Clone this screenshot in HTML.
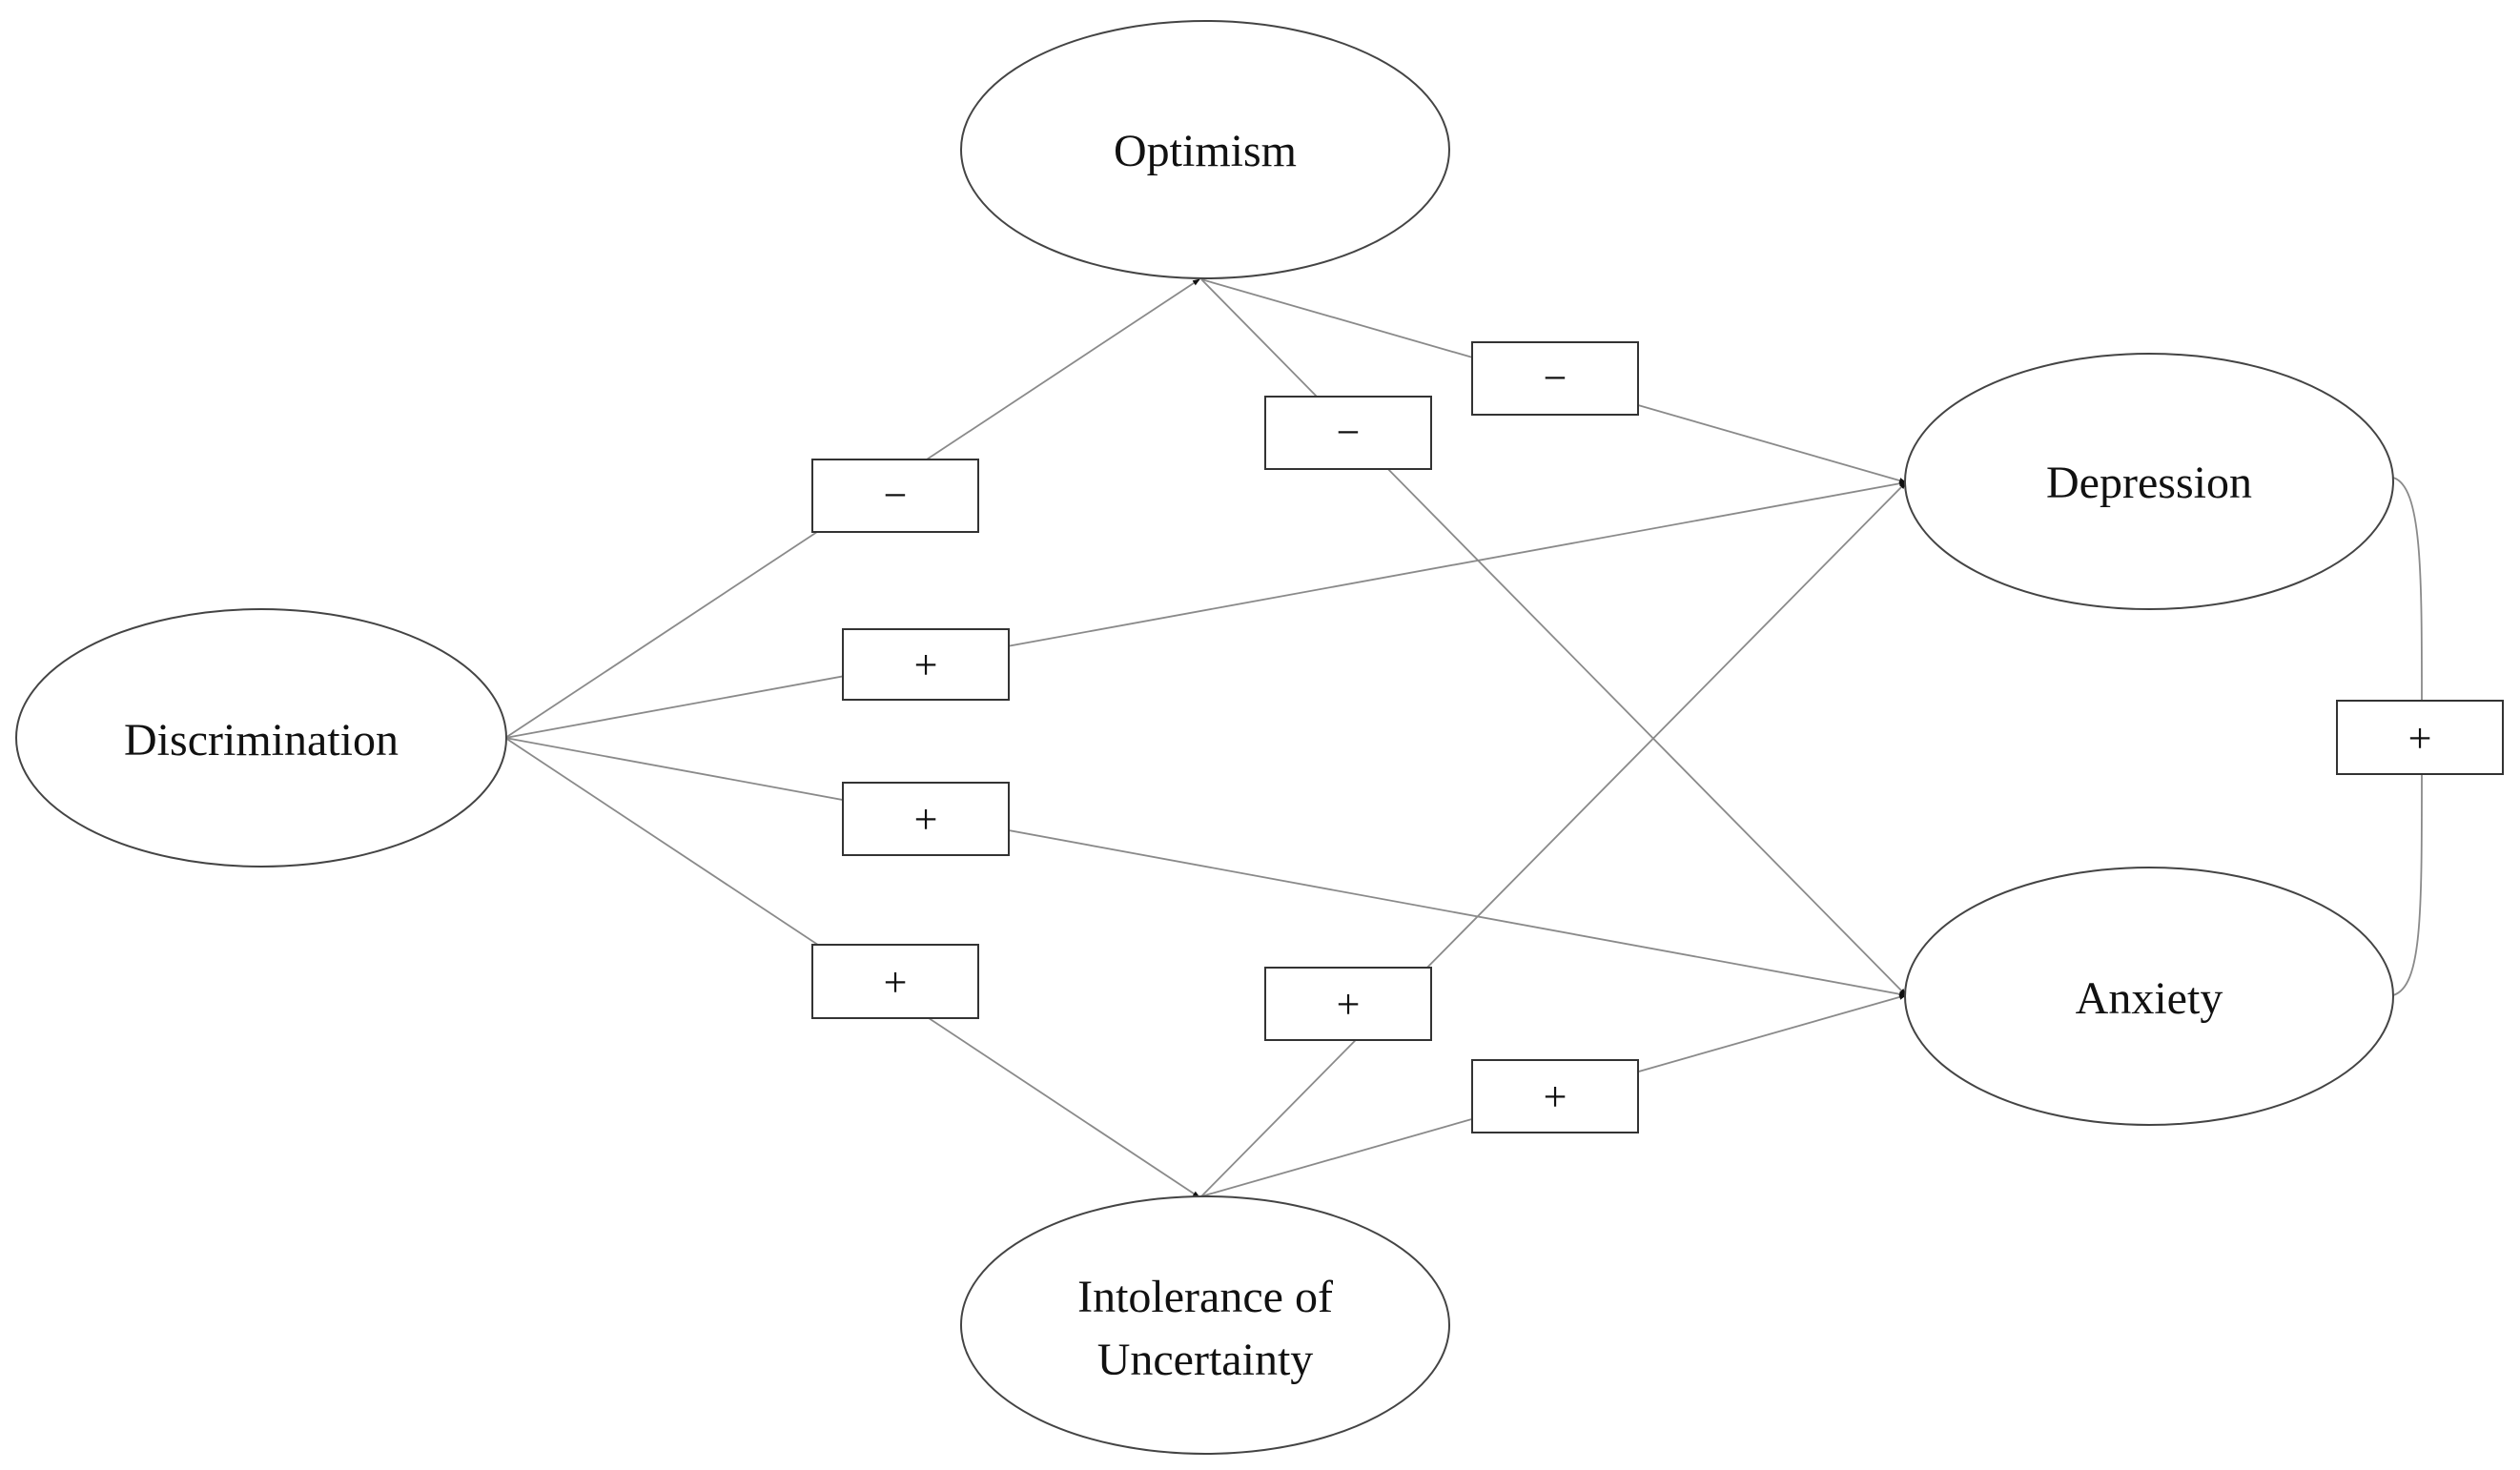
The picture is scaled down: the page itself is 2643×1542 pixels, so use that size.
<!DOCTYPE html>
<html><head><meta charset="utf-8"><style>
html,body{margin:0;padding:0;background:#fff;}
svg{display:block;}
text{font-family:"Liberation Serif",serif;fill:#111;}
</style></head><body>
<svg width="2643" height="1542" viewBox="0 0 2643 1542" xmlns="http://www.w3.org/2000/svg">
<defs>
<marker id="ah" markerWidth="8" markerHeight="8" refX="7" refY="4" orient="auto" markerUnits="userSpaceOnUse">
<path d="M0,1 L8,4 L0,7 Z" fill="#111"/>
</marker>
</defs>
<g stroke="#8a8a8a" stroke-width="1.8" fill="none">
<!-- Disc -> Optimism -->
<line x1="530" y1="774" x2="1258" y2="293" marker-end="url(#ah)"/>
<!-- Disc -> IoU -->
<line x1="530" y1="774" x2="1258" y2="1256" marker-end="url(#ah)"/>
<!-- Disc -> Depression -->
<line x1="530" y1="774" x2="1999" y2="506" marker-end="url(#ah)"/>
<!-- Disc -> Anxiety -->
<line x1="530" y1="774" x2="1999" y2="1044" marker-end="url(#ah)"/>
<!-- Optimism -> Depression -->
<line x1="1260" y1="293" x2="1999" y2="506" marker-end="url(#ah)"/>
<!-- Optimism -> Anxiety -->
<line x1="1260" y1="293" x2="1999" y2="1044" marker-end="url(#ah)"/>
<!-- IoU -> Depression -->
<line x1="1260" y1="1255" x2="1999" y2="506" marker-end="url(#ah)"/>
<!-- IoU -> Anxiety -->
<line x1="1260" y1="1255" x2="1999" y2="1044" marker-end="url(#ah)"/>
<!-- correlation -->
<path d="M2510,501 C2540,510 2540,600 2540,735 L2540,812 C2540,960 2540,1035 2510,1044"/>
</g>
<g stroke="#444" stroke-width="2" fill="#fff">
<ellipse cx="1264" cy="157" rx="256" ry="135"/>
<ellipse cx="274" cy="774" rx="257" ry="135"/>
<ellipse cx="2254" cy="505" rx="256" ry="134"/>
<ellipse cx="2254" cy="1045" rx="256" ry="135"/>
<ellipse cx="1264" cy="1390" rx="256" ry="135"/>
</g>
<g stroke="#333" stroke-width="2" fill="#fff">
<rect x="852" y="482" width="174" height="76"/>
<rect x="884" y="660" width="174" height="74"/>
<rect x="884" y="821" width="174" height="76"/>
<rect x="852" y="991" width="174" height="77"/>
<rect x="1544" y="359" width="174" height="76"/>
<rect x="1327" y="416" width="174" height="76"/>
<rect x="1327" y="1015" width="174" height="76"/>
<rect x="1544" y="1112" width="174" height="76"/>
<rect x="2451" y="735" width="174" height="77"/>
</g>
<g font-size="48" text-anchor="middle">
<text x="1264" y="174">Optimism</text>
<text x="274" y="792">Discrimination</text>
<text x="2254" y="522">Depression</text>
<text x="2254" y="1063">Anxiety</text>
<text x="1264" y="1376">Intolerance of</text>
<text x="1264" y="1442">Uncertainty</text>
</g>
<g font-size="44" text-anchor="middle">
<text x="939" y="534">−</text>
<text x="971" y="712">+</text>
<text x="971" y="874">+</text>
<text x="939" y="1045">+</text>
<text x="1631" y="411">−</text>
<text x="1414" y="468">−</text>
<text x="1414" y="1068">+</text>
<text x="1631" y="1165">+</text>
<text x="2538" y="789">+</text>
</g>
</svg>
</body></html>
